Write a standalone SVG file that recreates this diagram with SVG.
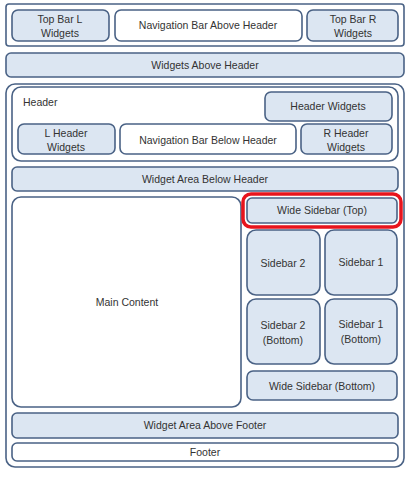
<svg xmlns="http://www.w3.org/2000/svg" width="413" height="477" viewBox="0 0 413 477">
<style>
rect{stroke:#4a6285;stroke-width:1.6}
.w{fill:#ffffff}
.b{fill:#dce6f2}
text{font-family:"Liberation Sans",Arial,sans-serif;font-size:10.5px;fill:#333;text-anchor:middle}
.l{text-anchor:start}
</style>
<rect x="0" y="0" width="413" height="477" fill="#fff" style="stroke:none"/>
<g id="topbar">
<rect class="w" x="6" y="4" width="398" height="42" rx="3"/>
</g>
<g id="topbar-l"><rect class="b" x="12" y="10" width="97" height="31" rx="6"/><text x="60" y="23">Top Bar L</text><text x="60" y="37">Widgets</text></g>
<g id="nav-above"><rect class="w" x="115" y="10" width="187" height="31" rx="6"/><text x="208" y="29">Navigation Bar Above Header</text></g>
<g id="topbar-r"><rect class="b" x="307" y="10" width="91" height="31" rx="6"/><text x="353" y="23">Top Bar R</text><text x="353" y="37">Widgets</text></g>
<g id="widgets-above-header"><rect class="b" x="6" y="53" width="398" height="24" rx="5"/><text x="205" y="69">Widgets Above Header</text></g>
<g id="page"><rect class="w" x="6" y="84" width="398" height="383" rx="9"/></g>
<g id="header"><rect class="w" x="12" y="87" width="386" height="74" rx="9"/><text class="l" x="23" y="106">Header</text></g>
<g id="header-widgets"><rect class="b" x="265" y="92" width="127" height="29" rx="6"/><text x="328" y="110">Header Widgets</text></g>
<g id="l-header-widgets"><rect class="b" x="18" y="124" width="97" height="30" rx="6"/><text x="66" y="137">L Header</text><text x="66" y="151">Widgets</text></g>
<g id="nav-below"><rect class="w" x="120" y="124" width="176" height="30" rx="6"/><text x="208" y="144">Navigation Bar Below Header</text></g>
<g id="r-header-widgets"><rect class="b" x="301" y="124" width="91" height="30" rx="6"/><text x="346" y="137">R Header</text><text x="346" y="151">Widgets</text></g>
<g id="widget-below-header"><rect class="b" x="12" y="167" width="386" height="24" rx="5"/><text x="205" y="183">Widget Area Below Header</text></g>
<g id="main-content"><rect class="w" x="12" y="197" width="229" height="210" rx="9"/><text x="127" y="306">Main Content</text></g>
<g id="wide-sidebar-top"><rect class="b" x="247" y="198" width="150" height="25" rx="5"/><text x="322" y="214">Wide Sidebar (Top)</text>
<rect x="243" y="194" width="158" height="33" rx="8" fill="none" style="stroke:#e8141c;stroke-width:3.5"/></g>
<g id="sidebar-2"><rect class="b" x="247" y="230" width="73" height="65" rx="9"/><text x="283" y="267">Sidebar 2</text></g>
<g id="sidebar-1"><rect class="b" x="325" y="230" width="72" height="65" rx="9"/><text x="361" y="266">Sidebar 1</text></g>
<g id="sidebar-2-bottom"><rect class="b" x="247" y="299" width="73" height="65" rx="9"/><text x="283" y="329">Sidebar 2</text><text x="283" y="344">(Bottom)</text></g>
<g id="sidebar-1-bottom"><rect class="b" x="325" y="299" width="72" height="65" rx="9"/><text x="361" y="328">Sidebar 1</text><text x="361" y="343">(Bottom)</text></g>
<g id="wide-sidebar-bottom"><rect class="b" x="247" y="371" width="150" height="29" rx="6"/><text x="322" y="390">Wide Sidebar (Bottom)</text></g>
<g id="widget-above-footer"><rect class="b" x="12" y="413" width="386" height="25" rx="5"/><text x="205" y="429">Widget Area Above Footer</text></g>
<g id="footer"><rect class="w" x="12" y="443" width="386" height="18" rx="5"/><text x="205" y="456">Footer</text></g>
<g id="connectors"></g>
</svg>
